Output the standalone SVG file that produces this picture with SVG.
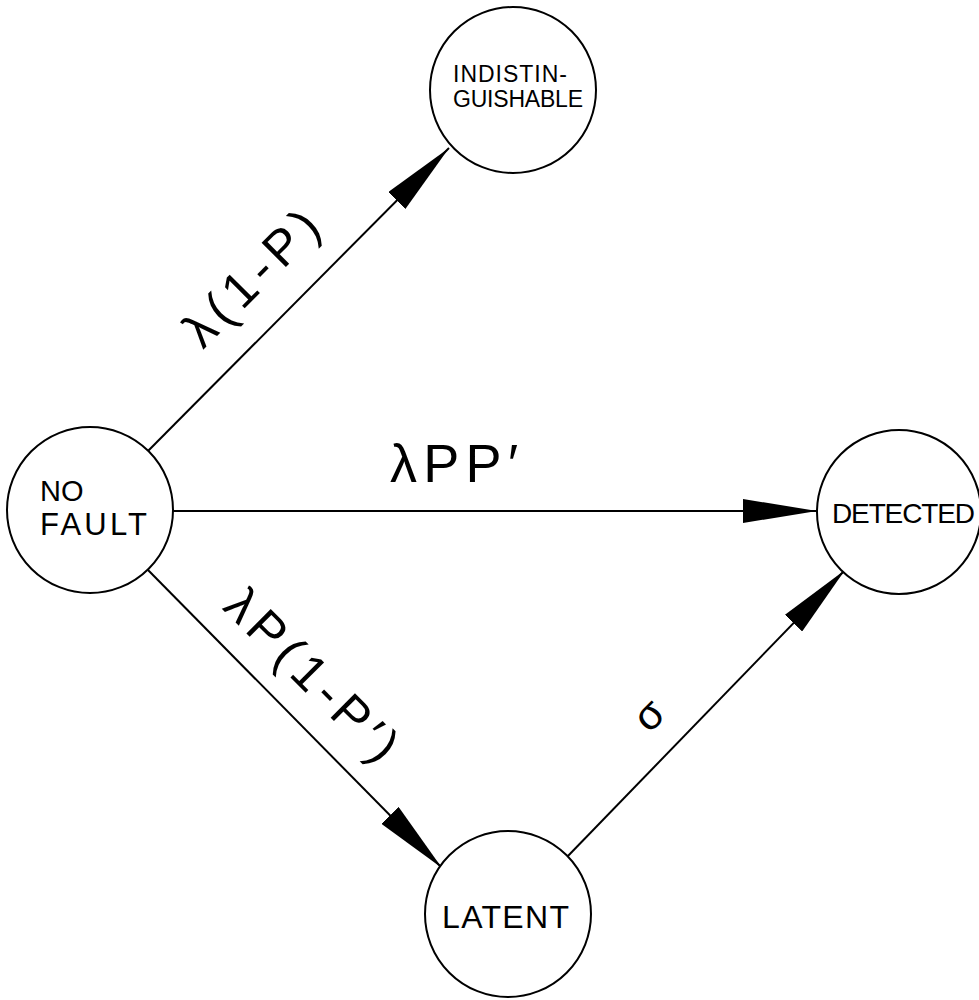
<svg xmlns="http://www.w3.org/2000/svg" width="979" height="1000" viewBox="0 0 979 1000">
  <style>
    .state { fill: #ffffff; stroke: #000000; stroke-width: 2; }
    .label { font-family: "Liberation Sans", "DejaVu Sans", sans-serif; fill: #000000; }
    .edge { fill: none; stroke: #000000; stroke-width: 2; marker-end: url(#head); }
  </style>
  <defs>
    <!-- long, narrow filled arrowhead; tip sits on the path end -->
    <marker id="head" markerUnits="userSpaceOnUse" viewBox="0 0 74 24" markerWidth="74" markerHeight="24" refX="74" refY="12" orient="auto">
      <path d="M0,0 L74,12 L0,24 Z" fill="#000000"/>
    </marker>
  </defs>

  <rect width="979" height="1000" fill="#ffffff"/>

  <!-- transitions -->
  <g id="connectors">
    <path class="edge" d="M148,451 L449,148"/>
    <path class="edge" d="M173,511 L817,511"/>
    <path class="edge" d="M148,570 L442,868"/>
    <path class="edge" d="M567,857 L845,570"/>

    <text class="label" font-size="50" text-anchor="middle" textLength="170" lengthAdjust="spacing" transform="translate(263,290) rotate(-45)">λ(1-P)</text>
    <text class="label" font-size="54" x="390" y="482" textLength="128" lengthAdjust="spacing">λPP′</text>
    <text class="label" font-size="50" text-anchor="middle" textLength="222" lengthAdjust="spacing" transform="translate(300,687) rotate(45)">λP(1-P′)</text>
    <text class="label" font-size="42" text-anchor="middle" transform="translate(651,717) rotate(-45)" y="11">σ</text>
  </g>

  <!-- states -->
  <g id="no-fault">
    <circle class="state" cx="90" cy="510" r="83"/>
    <text class="label" font-size="29" x="40" y="501">NO</text>
    <text class="label" font-size="31" x="40" y="535" textLength="107" lengthAdjust="spacing">FAULT</text>
  </g>

  <g id="indistinguishable">
    <circle class="state" cx="513" cy="90" r="83"/>
    <text class="label" font-size="23" x="453" y="82" textLength="114" lengthAdjust="spacing">INDISTIN-</text>
    <text class="label" font-size="23" x="453" y="107" textLength="130" lengthAdjust="spacing">GUISHABLE</text>
  </g>

  <g id="detected">
    <circle class="state" cx="899" cy="512" r="82"/>
    <text class="label" font-size="28" x="832" y="523" textLength="143" lengthAdjust="spacing">DETECTED</text>
  </g>

  <g id="latent">
    <circle class="state" cx="508" cy="914" r="83"/>
    <text class="label" font-size="32" x="442" y="928" textLength="127" lengthAdjust="spacing">LATENT</text>
  </g>
</svg>
